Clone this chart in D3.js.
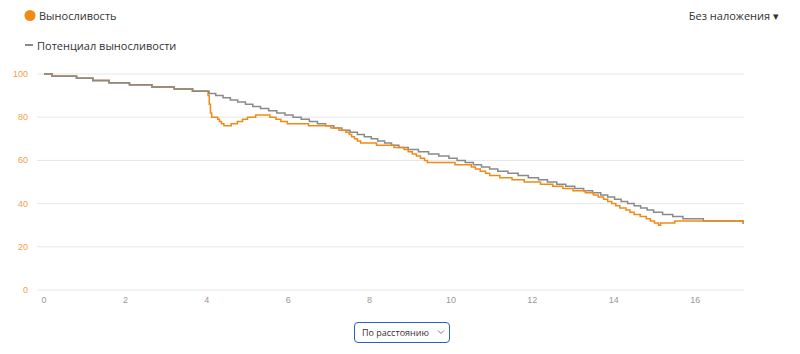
<!DOCTYPE html>
<html>
<head>
<meta charset="utf-8">
<script src="https://cdn.jsdelivr.net/npm/d3@7"></script>
<style>
  body { margin: 0; background: #fff; font-family: "Open Sans", sans-serif; }
  #chart { position: relative; width: 800px; height: 354px; }
  #mode {
    position: absolute; left: 354px; top: 322px; width: 96px; height: 21px;
    -webkit-appearance: none; appearance: none;
    font-family: "Open Sans", sans-serif; font-size: 9px; color: #333;
    border: 1.5px solid #2a5fc4; border-radius: 4px; background: transparent;
    padding: 0 0 0 7px; box-sizing: border-box;
  }
</style>
</head>
<body>
<div id="chart"></div>
<script>
// stamina potential: [km, value] steps
const potentialSteps = [
  [0, 100], [0.2, 99], [0.8, 98], [1.2, 97], [1.6, 96], [2.1, 95], [2.65, 94], [3.2, 93], [3.65, 92],
  [4.05, 91], [4.22, 90], [4.4, 89], [4.58, 88], [4.76, 87], [4.95, 86], [5.13, 85], [5.32, 84],
  [5.52, 83], [5.72, 82], [5.92, 81], [6.12, 80], [6.32, 79], [6.52, 78], [6.72, 77], [6.92, 76],
  [7.12, 75], [7.32, 74], [7.52, 73], [7.7, 72], [7.87, 71], [8.04, 70], [8.2, 69], [8.37, 68],
  [8.54, 67], [8.72, 66], [8.95, 65], [9.2, 64], [9.45, 63], [9.7, 62], [9.95, 61], [10.15, 60],
  [10.35, 59], [10.55, 58], [10.75, 57], [10.95, 56], [11.15, 55], [11.4, 54], [11.65, 53],
  [11.9, 52], [12.15, 51], [12.37, 50], [12.6, 49], [12.82, 48], [13.04, 47], [13.26, 46],
  [13.48, 45], [13.68, 44], [13.85, 43], [14.02, 42], [14.18, 41], [14.34, 40], [14.5, 39],
  [14.66, 38], [14.82, 37], [14.98, 36], [15.2, 35], [15.45, 34], [15.7, 33], [16.2, 32],
  [17.18, 31], [17.2, 31]
];

// stamina: [km, value] steps
const staminaSteps = [
  [0, 100], [0.2, 99], [0.8, 98], [1.2, 97], [1.6, 96], [2.1, 95], [2.65, 94], [3.2, 93], [3.65, 92],
  [4.03, 90], [4.06, 86], [4.09, 82], [4.12, 80], [4.27, 79], [4.31, 78], [4.36, 77], [4.42, 76],
  [4.6, 77], [4.75, 78], [4.88, 79], [5.0, 80], [5.2, 81], [5.55, 80], [5.7, 79], [5.82, 78],
  [5.98, 77], [6.5, 76], [7.05, 75], [7.25, 74], [7.42, 73], [7.5, 72], [7.56, 71], [7.63, 70],
  [7.7, 69], [7.78, 68], [8.17, 67], [8.6, 66], [8.85, 65], [8.95, 64], [9.05, 63], [9.15, 62],
  [9.25, 61], [9.35, 60], [9.42, 59], [10.1, 58], [10.5, 57], [10.6, 56], [10.72, 55], [10.85, 54],
  [10.95, 53], [11.2, 52], [11.5, 51], [11.8, 50], [12.2, 49], [12.5, 48], [12.75, 47], [13.0, 46],
  [13.3, 45], [13.5, 44], [13.62, 43], [13.75, 42], [13.85, 41], [13.95, 40], [14.05, 39],
  [14.15, 38], [14.3, 37], [14.4, 36], [14.5, 35], [14.65, 34], [14.8, 33], [14.9, 32], [15.0, 31],
  [15.1, 30], [15.15, 31], [15.5, 32], [17.18, 31], [17.2, 31]
];

const yTicks = [0, 20, 40, 60, 80, 100];
const xTicks = [0, 2, 4, 6, 8, 10, 12, 14, 16];
const modes = ["По расстоянию", "По времени"];

const orange = "#f08a14";
const grey = "#8a8a8a";

const width = 800, height = 354;
const svg = d3.select("#chart").append("svg")
  .attr("width", width)
  .attr("height", height)
  .style("position", "absolute").style("left", 0).style("top", 0);

let x = d3.scaleLinear().domain([0, 17.2]).range([44, 744]);
let y = d3.scaleLinear().domain([0, 100]).range([290, 74]);

// grid
svg.append("g").selectAll("line")
  .data(yTicks)
  .enter().append("line")
  .attr("x1", 37).attr("x2", 744)
  .attr("y1", d => y(d)).attr("y2", d => y(d))
  .attr("stroke", "#e6e6e6").attr("stroke-width", 1);

// y labels
svg.append("g").selectAll("text")
  .data(yTicks)
  .enter().append("text")
  .attr("x", 28).attr("y", d => y(d) + 3)
  .attr("text-anchor", "end")
  .attr("fill", "#f0a04a")
  .style("font-family", "Liberation Sans, sans-serif")
  .style("font-size", "9px")
  .text(d => d);

// x labels
svg.append("g").selectAll("text")
  .data(xTicks)
  .enter().append("text")
  .attr("x", d => x(d)).attr("y", 303)
  .attr("text-anchor", "middle")
  .attr("fill", "#999")
  .style("font-family", "Liberation Sans, sans-serif")
  .style("font-size", "9px")
  .text(d => d);

let line = d3.line()
  .x(d => x(d[0]))
  .y(d => y(d[1]))
  .curve(d3.curveStepAfter);

svg.append("path")
  .datum(potentialSteps)
  .attr("fill", "none")
  .attr("stroke", grey)
  .attr("stroke-width", 1.5)
  .attr("d", line);

svg.append("path")
  .datum(staminaSteps)
  .attr("fill", "none")
  .attr("stroke", orange)
  .attr("stroke-width", 1.5)
  .attr("d", line);

// grey sits on top where both lines overlap
svg.append("path")
  .datum(potentialSteps.filter(d => d[0] <= 4.05))
  .attr("fill", "none")
  .attr("stroke", grey)
  .attr("stroke-width", 1.5)
  .attr("d", line);

// legend
svg.append("circle")
  .attr("cx", 30).attr("cy", 15.5).attr("r", 5.5)
  .attr("fill", orange);
svg.append("text")
  .attr("x", 39).attr("y", 19.5)
  .attr("fill", "#333")
  .style("font-size", "11px")
  .text("Выносливость");

svg.append("line")
  .attr("x1", 25).attr("x2", 33)
  .attr("y1", 45).attr("y2", 45)
  .attr("stroke", grey).attr("stroke-width", 2);
svg.append("text")
  .attr("x", 37).attr("y", 49.5)
  .attr("fill", "#333")
  .style("font-size", "11px")
  .text("Потенциал выносливости");

svg.append("text")
  .attr("x", 779).attr("y", 19.5)
  .attr("text-anchor", "end")
  .attr("fill", "#333")
  .style("font-size", "11px")
  .text("Без наложения ▾");

// chevron of the selector
svg.append("path")
  .attr("d", "M438,330.5 L441,333.5 L444,330.5")
  .attr("fill", "none")
  .attr("stroke", "#777")
  .attr("stroke-width", 1);

// mode selector
let sel = d3.select("#chart").append("select").attr("id", "mode");
sel.selectAll("option")
  .data(modes)
  .enter().append("option")
  .text(d => d);
</script>
</body>
</html>
